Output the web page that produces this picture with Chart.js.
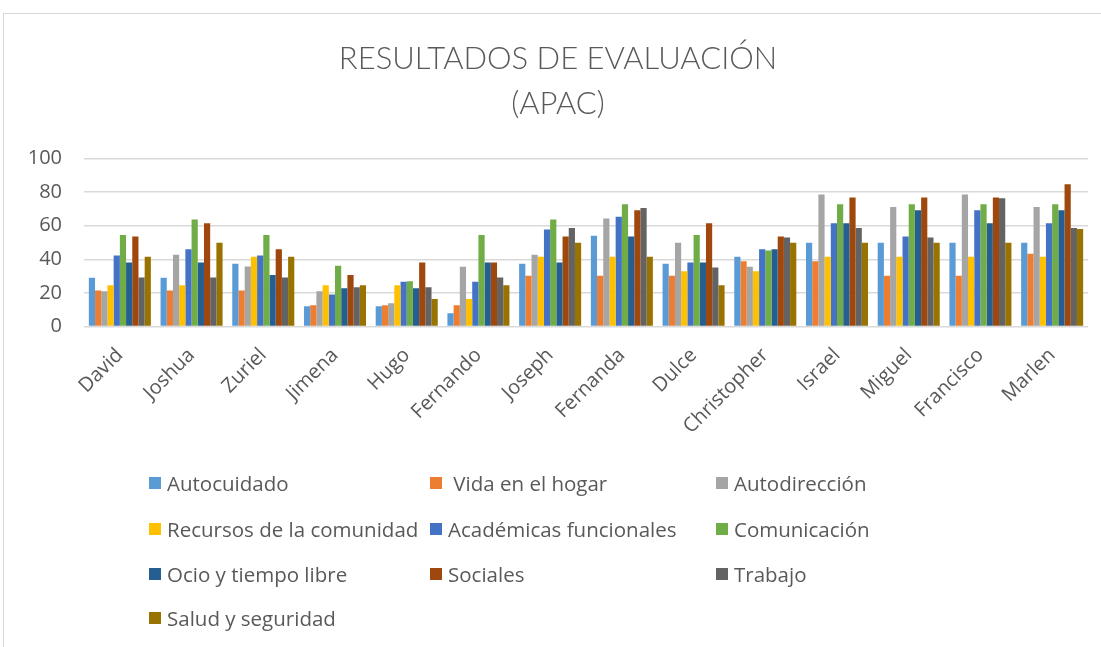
<!DOCTYPE html>
<html>
<head>
<meta charset="utf-8">
<script src="https://cdn.jsdelivr.net/npm/chart.js@4.4.1/dist/chart.umd.min.js"></script>
<style>
  html, body { margin: 0; padding: 0; background: #fff; }
  #wrap { position: relative; width: 1101px; height: 647px; overflow: hidden; }
  #frame { position: absolute; left: 3px; top: 13px; width: 1200px; height: 700px; border: 1px solid #d9d9d9; box-sizing: border-box; }
  #c { position: absolute; left: 0; top: 0; }
  #legend { position: absolute; left: 0; top: 0; width: 1101px; height: 647px; pointer-events: none;
            font-family: "Open Sans", Lato, sans-serif; font-size: 20.5px; color: #595959; }
  .item { position: absolute; white-space: pre; display: flex; align-items: center; height: 26px; }
  .box { width: 12px; height: 12px; margin-right: 6px; display: inline-block; }
</style>
</head>
<body>
<div id="wrap">
  <div id="frame"></div>
  <canvas id="c" width="1101" height="647"></canvas>
  <div id="legend"></div>
</div>
<script>
const categories = ["David","Joshua","Zuriel","Jimena","Hugo","Fernando","Joseph","Fernanda","Dulce","Christopher","Israel","Miguel","Francisco","Marlen"];
const seriesNames = ["Autocuidado"," Vida en el hogar","Autodirección","Recursos de la comunidad","Académicas funcionales","Comunicación","Ocio y tiempo libre","Sociales","Trabajo","Salud y seguridad"];
const seriesColors = ["#5B9BD5","#ED7D31","#A5A5A5","#FFC000","#4472C4","#70AD47","#255E91","#9E480E","#636363","#997300"];
const autocuidado   = [29.0, 29.0, 37.3, 12.1, 12.1,  7.9, 37.3, 54.0, 37.3, 41.5, 49.8, 49.8, 49.8, 49.8];
const vidaHogar     = [21.4, 21.4, 21.4, 12.7, 12.7, 12.7, 30.2, 30.2, 30.2, 38.9, 38.9, 30.2, 30.2, 43.3];
const autodireccion = [21.0, 42.7, 35.7, 21.0, 13.9, 35.5, 42.7, 64.3, 49.8, 35.5, 78.6, 71.2, 78.6, 71.2];
const recursos      = [24.6, 24.6, 41.5, 24.6, 24.6, 16.3, 41.5, 41.5, 32.9, 32.9, 41.5, 41.5, 41.5, 41.5];
const academicas    = [42.3, 46.0, 42.3, 19.0, 26.6, 26.6, 57.7, 65.3, 38.1, 46.0, 61.5, 53.6, 69.2, 61.5];
const comunicacion  = [54.4, 63.7, 54.4, 36.1, 27.0, 54.4, 63.7, 72.8, 54.4, 45.2, 72.8, 72.8, 72.8, 72.8];
const ocio          = [38.1, 38.1, 30.6, 22.8, 22.8, 38.1, 38.1, 53.6, 38.1, 46.0, 61.5, 69.2, 61.5, 69.2];
const sociales      = [53.6, 61.5, 46.0, 30.6, 38.1, 38.1, 53.6, 69.2, 61.5, 53.6, 76.8, 76.8, 76.8, 84.7];
const trabajo       = [29.2, 29.2, 29.2, 23.4, 23.4, 29.2, 58.7, 70.6, 35.1, 53.0, 58.7, 53.0, 76.4, 58.7];
const salud         = [41.5, 49.8, 41.5, 24.6, 16.3, 24.6, 49.8, 41.5, 24.6, 49.8, 49.8, 49.8, 49.8, 58.1];
const yTicks = [0, 20, 40, 60, 80, 100];
const titleLines = ["RESULTADOS DE EVALUACIÓN", "(APAC)"];

const seriesValues = [autocuidado, vidaHogar, autodireccion, recursos, academicas, comunicacion, ocio, sociales, trabajo, salud];

const FONT = '"Open Sans", Lato, sans-serif';
const TXT = '#595959';

new Chart(document.getElementById('c'), {
  type: 'bar',
  data: {
    labels: categories,
    datasets: seriesNames.map((n, i) => ({
      label: n,
      data: seriesValues[i],
      backgroundColor: seriesColors[i],
      borderWidth: 0,
      barPercentage: 1.0,
      categoryPercentage: 0.865
    }))
  },
  options: {
    responsive: false,
    devicePixelRatio: 1,
    animation: false,
    layout: { padding: { left: 28, right: 13, top: 36, bottom: 190.5 } },
    plugins: {
      legend: { display: false },
      tooltip: { enabled: false },
      title: {
        display: true,
        text: titleLines,
        color: TXT,
        font: { family: 'Lato, "Open Sans", sans-serif', size: 31, weight: 300, lineHeight: 1.46 },
        padding: { top: 0, bottom: 32 }
      }
    },
    scales: {
      x: {
        grid: { display: false },
        border: { display: false },
        ticks: { color: TXT, font: { family: FONT, size: 20 }, maxRotation: 45, minRotation: 45, padding: 9 },
        afterFit: (s) => { s.paddingLeft = 0; s.paddingRight = 0; s.height = 130; }
      },
      y: {
        min: 0, max: 100,
        afterBuildTicks: (s) => { s.ticks = yTicks.map(v => ({ value: v })); },
        grid: { color: '#d9d9d9', lineWidth: 1.5, drawTicks: false },
        border: { display: false },
        ticks: { color: TXT, font: { family: FONT, size: 20 }, padding: 22 },
        afterFit: (s) => { s.width = 56; }
      }
    }
  }
});

const legendPos = [
  [149, 483], [430, 483], [716, 483],
  [149, 529], [430, 529], [716, 529],
  [149, 574], [430, 574], [716, 574],
  [149, 618]
];
const leg = document.getElementById('legend');
seriesNames.forEach((n, i) => {
  const d = document.createElement('div');
  d.className = 'item';
  d.style.left = legendPos[i][0] + 'px';
  d.style.top = (legendPos[i][1] - 13) + 'px';
  const b = document.createElement('span');
  b.className = 'box';
  b.style.background = seriesColors[i];
  const t = document.createElement('span');
  t.textContent = n;
  d.appendChild(b); d.appendChild(t);
  leg.appendChild(d);
});
</script>
</body>
</html>
